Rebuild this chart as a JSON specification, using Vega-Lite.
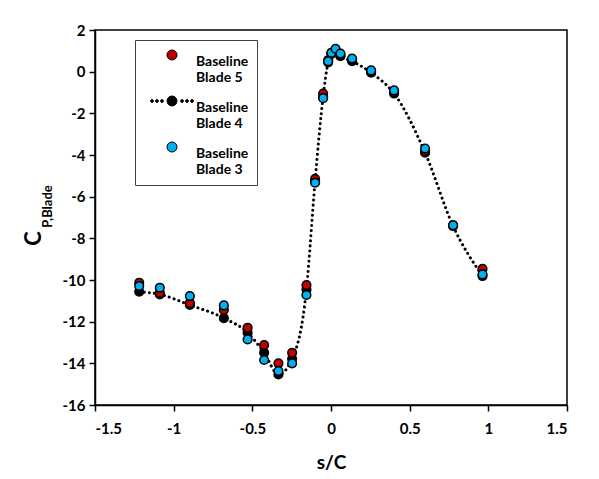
{
  "$schema": "https://vega.github.io/schema/vega-lite/v6.json",
  "width": 472,
  "height": 375,
  "autosize": {"type": "none"},
  "padding": {"left": 95, "top": 30, "right": 32, "bottom": 74},
  "background": "white",
  "config": {
    "font": "Lato",
    "view": {"stroke": "black", "strokeWidth": 1.5},
    "axis": {
      "grid": false,
      "domainColor": "black",
      "domainWidth": 1.5,
      "tickColor": "black",
      "tickWidth": 1.5,
      "tickSize": 6,
      "labelFont": "Lato",
      "labelFontSize": 15,
      "labelFontWeight": "bold",
      "labelColor": "black",
      "titleFont": "Lato",
      "titleColor": "black",
      "titleFontWeight": "bold"
    },
    "legend": {
      "orient": "none",
      "legendX": 40,
      "legendY": 10,
      "padding": 8,
      "strokeColor": "#404040",
      "fillColor": "white",
      "symbolSize": 100,
      "symbolOffset": 22,
      "symbolStrokeWidth": 1,
      "labelOffset": 17,
      "labelFont": "Lato",
      "labelFontSize": 14,
      "labelFontWeight": "bold",
      "labelColor": "black",
      "labelLineHeight": 18,
      "labelBaseline": "top",
      "rowPadding": 9
    }
  },
  "datasets": {
    "cp": [
      {"s": -1.219, "cp": -10.56, "series": "Baseline Blade 4"},
      {"s": -1.088, "cp": -10.69, "series": "Baseline Blade 4"},
      {"s": -0.897, "cp": -11.2, "series": "Baseline Blade 4"},
      {"s": -0.681, "cp": -11.83, "series": "Baseline Blade 4"},
      {"s": -0.53, "cp": -12.53, "series": "Baseline Blade 4"},
      {"s": -0.425, "cp": -13.49, "series": "Baseline Blade 4"},
      {"s": -0.334, "cp": -14.53, "series": "Baseline Blade 4"},
      {"s": -0.247, "cp": -13.78, "series": "Baseline Blade 4"},
      {"s": -0.156, "cp": -10.45, "series": "Baseline Blade 4"},
      {"s": -0.101, "cp": -5.25, "series": "Baseline Blade 4"},
      {"s": -0.05, "cp": -1.2, "series": "Baseline Blade 4"},
      {"s": -0.018, "cp": 0.45, "series": "Baseline Blade 4"},
      {"s": 0.003, "cp": 0.85, "series": "Baseline Blade 4"},
      {"s": 0.029, "cp": 1.0, "series": "Baseline Blade 4"},
      {"s": 0.06, "cp": 0.74, "series": "Baseline Blade 4"},
      {"s": 0.134, "cp": 0.5, "series": "Baseline Blade 4"},
      {"s": 0.255, "cp": -0.05, "series": "Baseline Blade 4"},
      {"s": 0.401, "cp": -1.05, "series": "Baseline Blade 4"},
      {"s": 0.598, "cp": -3.89, "series": "Baseline Blade 4"},
      {"s": 0.776, "cp": -7.41, "series": "Baseline Blade 4"},
      {"s": 0.963, "cp": -9.81, "series": "Baseline Blade 4"},
      {"s": -1.219, "cp": -10.13, "series": "Baseline Blade 5"},
      {"s": -1.088, "cp": -10.61, "series": "Baseline Blade 5"},
      {"s": -0.897, "cp": -11.1, "series": "Baseline Blade 5"},
      {"s": -0.681, "cp": -11.44, "series": "Baseline Blade 5"},
      {"s": -0.53, "cp": -12.29, "series": "Baseline Blade 5"},
      {"s": -0.425, "cp": -13.12, "series": "Baseline Blade 5"},
      {"s": -0.334, "cp": -14.0, "series": "Baseline Blade 5"},
      {"s": -0.247, "cp": -13.49, "series": "Baseline Blade 5"},
      {"s": -0.156, "cp": -10.24, "series": "Baseline Blade 5"},
      {"s": -0.101, "cp": -5.14, "series": "Baseline Blade 5"},
      {"s": -0.05, "cp": -1.05, "series": "Baseline Blade 5"},
      {"s": -0.018, "cp": 0.55, "series": "Baseline Blade 5"},
      {"s": 0.003, "cp": 0.9, "series": "Baseline Blade 5"},
      {"s": 0.029, "cp": 1.05, "series": "Baseline Blade 5"},
      {"s": 0.06, "cp": 0.8, "series": "Baseline Blade 5"},
      {"s": 0.134, "cp": 0.58, "series": "Baseline Blade 5"},
      {"s": 0.255, "cp": 0.0, "series": "Baseline Blade 5"},
      {"s": 0.401, "cp": -0.98, "series": "Baseline Blade 5"},
      {"s": 0.598, "cp": -3.8, "series": "Baseline Blade 5"},
      {"s": 0.776, "cp": -7.38, "series": "Baseline Blade 5"},
      {"s": 0.963, "cp": -9.46, "series": "Baseline Blade 5"},
      {"s": -1.219, "cp": -10.29, "series": "Baseline Blade 3"},
      {"s": -1.088, "cp": -10.37, "series": "Baseline Blade 3"},
      {"s": -0.897, "cp": -10.77, "series": "Baseline Blade 3"},
      {"s": -0.681, "cp": -11.22, "series": "Baseline Blade 3"},
      {"s": -0.53, "cp": -12.85, "series": "Baseline Blade 3"},
      {"s": -0.425, "cp": -13.84, "series": "Baseline Blade 3"},
      {"s": -0.334, "cp": -14.37, "series": "Baseline Blade 3"},
      {"s": -0.247, "cp": -14.0, "series": "Baseline Blade 3"},
      {"s": -0.156, "cp": -10.72, "series": "Baseline Blade 3"},
      {"s": -0.101, "cp": -5.33, "series": "Baseline Blade 3"},
      {"s": -0.05, "cp": -1.27, "series": "Baseline Blade 3"},
      {"s": -0.018, "cp": 0.5, "series": "Baseline Blade 3"},
      {"s": 0.003, "cp": 0.91, "series": "Baseline Blade 3"},
      {"s": 0.029, "cp": 1.1, "series": "Baseline Blade 3"},
      {"s": 0.06, "cp": 0.87, "series": "Baseline Blade 3"},
      {"s": 0.134, "cp": 0.63, "series": "Baseline Blade 3"},
      {"s": 0.255, "cp": 0.06, "series": "Baseline Blade 3"},
      {"s": 0.401, "cp": -0.9, "series": "Baseline Blade 3"},
      {"s": 0.598, "cp": -3.69, "series": "Baseline Blade 3"},
      {"s": 0.776, "cp": -7.37, "series": "Baseline Blade 3"},
      {"s": 0.963, "cp": -9.73, "series": "Baseline Blade 3"}
    ]
  },
  "data": {"name": "cp"},
  "layer": [
    {
      "transform": [{"filter": "datum.series === 'Baseline Blade 4'"}],
      "mark": {"type": "line", "interpolate": "monotone", "color": "black", "strokeWidth": 3, "strokeDash": [0.1, 5], "strokeCap": "round"},
      "encoding": {
        "x": {"field": "s", "type": "quantitative", "scale": {"domain": [-1.5, 1.5], "nice": false}},
        "y": {
          "field": "cp", "type": "quantitative",
          "scale": {"domain": [-16, 2], "nice": false},
          "axis": {"orient": "left", "labels": false, "ticks": false, "domain": false, "title": "P,Blade", "titleFontSize": 13, "titleAngle": -90, "titleAlign": "center", "titleBaseline": "middle", "titleX": -48, "titleY": 176}
        }
      }
    },
    {
      "transform": [{"filter": "datum.series === 'Baseline Blade 4'"}],
      "mark": {"type": "point", "filled": true, "size": 75, "stroke": "black", "strokeWidth": 1.5, "opacity": 1},
      "encoding": {
        "x": {"field": "s", "type": "quantitative", "scale": {"domain": [-1.5, 1.5], "nice": false}},
        "y": {"field": "cp", "type": "quantitative", "scale": {"domain": [-16, 2], "nice": false}, "axis": null},
        "fill": {
          "field": "series", "type": "nominal",
          "scale": {"domain": ["Baseline Blade 5", "Baseline Blade 4", "Baseline Blade 3"], "range": ["#c00000", "#000000", "#00b0f0"]},
          "legend": {"title": null, "labelExpr": "['Baseline  ', replace(datum.label, 'Baseline ', '')]"}
        }
      }
    },
    {
      "transform": [{"filter": "datum.series !== 'Baseline Blade 4'"}],
      "mark": {"type": "point", "filled": true, "size": 75, "stroke": "black", "strokeWidth": 1.5, "opacity": 1},
      "encoding": {
        "x": {
          "field": "s", "type": "quantitative",
          "scale": {"domain": [-1.5, 1.5], "nice": false},
          "axis": {"values": [-1.5, -1, -0.5, 0, 0.5, 1, 1.5], "labelExpr": "'' + datum.value", "title": "s/C", "titleFontSize": 19, "titlePadding": 17, "labelPadding": 10}
        },
        "y": {
          "field": "cp", "type": "quantitative",
          "scale": {"domain": [-16, 2], "nice": false},
          "axis": {"orient": "left", "values": [-16, -14, -12, -10, -8, -6, -4, -2, 0, 2], "labelExpr": "'' + datum.value", "labelPadding": 4, "title": "C", "titleFontSize": 22, "titleAngle": -90, "titleAlign": "center", "titleBaseline": "middle", "titleX": -62, "titleY": 208}
        },
        "fill": {
          "field": "series", "type": "nominal",
          "scale": {"domain": ["Baseline Blade 5", "Baseline Blade 4", "Baseline Blade 3"], "range": ["#c00000", "#000000", "#00b0f0"]},
          "legend": {"title": null, "labelExpr": "['Baseline  ', replace(datum.label, 'Baseline ', '')]"}
        },
        "shape": {
          "field": "series", "type": "nominal",
          "scale": {"domain": ["Baseline Blade 5", "Baseline Blade 4", "Baseline Blade 3"], "range": ["circle", "M-1,0A1,1,0,1,1,1,0A1,1,0,1,1,-1,0ZM-4.3,0A0.3,0.3,0,1,1,-3.7,0A0.3,0.3,0,1,1,-4.3,0ZM-3.3,0A0.3,0.3,0,1,1,-2.7,0A0.3,0.3,0,1,1,-3.3,0ZM-2.3,0A0.3,0.3,0,1,1,-1.7,0A0.3,0.3,0,1,1,-2.3,0ZM1.7,0A0.3,0.3,0,1,1,2.3,0A0.3,0.3,0,1,1,1.7,0ZM2.7,0A0.3,0.3,0,1,1,3.3,0A0.3,0.3,0,1,1,2.7,0ZM3.7,0A0.3,0.3,0,1,1,4.3,0A0.3,0.3,0,1,1,3.7,0Z", "circle"]},
          "legend": {"title": null, "labelExpr": "['Baseline  ', replace(datum.label, 'Baseline ', '')]"}
        }
      }
    }
  ],
  "resolve": {"scale": {"y": "independent"}, "axis": {"y": "independent"}}
}
